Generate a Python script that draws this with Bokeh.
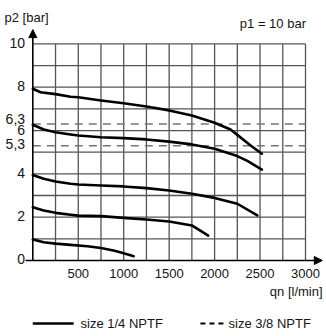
from bokeh.plotting import figure
from bokeh.models import Range1d, Arrow, NormalHead
from bokeh.core.properties import value
from bokeh.embed import file_html
from bokeh.resources import INLINE

# ---- data ----
q1 = [0, 85, 250, 415, 500, 750, 1000, 1250, 1500, 1750, 2000, 2175, 2250, 2400, 2520]
p1 = [7.93, 7.77, 7.68, 7.56, 7.54, 7.39, 7.26, 7.11, 6.93, 6.69, 6.36, 6.05, 5.8, 5.3, 4.93]
q2 = [0, 120, 250, 415, 500, 750, 1000, 1250, 1500, 1750, 2000, 2250, 2360, 2520]
p2 = [6.27, 6.05, 5.92, 5.82, 5.77, 5.69, 5.65, 5.59, 5.49, 5.36, 5.16, 4.82, 4.6, 4.2]
q3 = [0, 120, 250, 415, 500, 750, 1000, 1250, 1500, 1750, 2000, 2250, 2470]
p3 = [3.95, 3.77, 3.65, 3.54, 3.51, 3.46, 3.42, 3.34, 3.23, 3.08, 2.89, 2.62, 2.08]
q4 = [0, 120, 250, 415, 500, 750, 1000, 1250, 1500, 1750, 1930]
p4 = [2.46, 2.31, 2.2, 2.11, 2.07, 2.05, 1.97, 1.89, 1.8, 1.62, 1.15]
q5 = [0, 120, 250, 415, 600, 750, 900, 1000, 1110]
p5 = [0.97, 0.84, 0.78, 0.72, 0.66, 0.58, 0.45, 0.33, 0.2]
curves = [(q1, p1), (q2, p2), (q3, p3), (q4, p4), (q5, p5)]

ref_levels = [6.3, 5.3]
ref_labels = ["6,3", "5,3"]
x_ticks = [500, 1000, 1500, 2000, 2500, 3000]
x_tick_labels = ["500", "1000", "1500", "2000", "2500", "3000"]
y_ticks = [0, 2, 4, 6, 8, 10]
y_tick_labels = ["0", "2", "4", "6", "8", "10"]
x_grid = [250 * i for i in range(1, 13)]
y_grid = [i for i in range(1, 11)]
X_MAX, Y_MAX = 3000, 10

FONT = value("Liberation Sans")
TXT = "#151515"

p = figure(width=326, height=336,
           x_range=Range1d(-355.3, 3231), y_range=Range1d(-3.509, 12.004),
           output_backend="svg", toolbar_location=None,
           x_axis_location=None, y_axis_location=None,
           min_border=0, min_border_left=0, min_border_right=0,
           min_border_top=0, min_border_bottom=0)
p.grid.visible = False
p.outline_line_color = None
p.background_fill_color = "white"

# grid
p.segment(x0=x_grid, y0=0, x1=x_grid, y1=Y_MAX, line_color="#555555", line_width=1.3)
p.segment(x0=0, y0=y_grid, x1=X_MAX, y1=y_grid, line_color="#555555", line_width=1.3)

# reference dashed levels
p.segment(x0=0, y0=ref_levels, x1=X_MAX, y1=ref_levels, line_color="#777777",
          line_width=1.6, line_dash="8 6")

# axes with arrows
p.add_layout(Arrow(end=NormalHead(size=8, fill_color="black", line_color="black"),
                   x_start=0, y_start=0, x_end=0, y_end=10.66,
                   line_color="black", line_width=1.6))
p.add_layout(Arrow(end=NormalHead(size=8, fill_color="black", line_color="black"),
                   x_start=-80, y_start=0, x_end=3185, y_end=0,
                   line_color="black", line_width=1.6))

# curves
for q, pr in curves:
    p.line(q, pr, line_color="black", line_width=2.6, line_join="round", line_cap="round")

# tick labels
p.text(x=x_ticks, y=-0.6, text=x_tick_labels, text_align="center", text_baseline="middle",
       text_font=FONT, text_font_size="13px", text_color=TXT)
p.text(x=-85, y=y_ticks, text=y_tick_labels, text_align="right", text_baseline="middle",
       text_font=FONT, text_font_size="14px", text_color=TXT, y_offset=-1)
p.text(x=-85, y=ref_levels, text=ref_labels, text_align="right", text_baseline="middle",
       text_font=FONT, text_font_size="14px", text_color=TXT, y_offset=[-5, -2])

# titles
p.text(x=[-311], y=[11.22], text=["p2 [bar]"], text_align="left", text_baseline="middle",
       text_font=FONT, text_font_size="13px", text_color=TXT)
p.text(x=[3005], y=[10.96], text=["p1 = 10 bar"], text_align="right", text_baseline="middle",
       text_font=FONT, text_font_size="13px", text_color=TXT)
p.text(x=[3188], y=[-1.43], text=["qn [l/min]"], text_align="right", text_baseline="middle",
       text_font=FONT, text_font_size="13px", text_color=TXT)

# legend (drawn manually)
LY = -2.91
p.line([0, 450], [LY, LY], line_color="black", line_width=2.4)
p.text(x=[525], y=[LY], text=["size 1/4 NPTF"], text_align="left", text_baseline="middle",
       text_font=FONT, text_font_size="13px", text_color=TXT)
p.line([1844, 2098], [LY, LY], line_color="black", line_width=2, line_dash="5 4")
p.text(x=[2153], y=[LY], text=["size 3/8 NPTF"], text_align="left", text_baseline="middle",
       text_font=FONT, text_font_size="13px", text_color=TXT)

open("out.html", "w").write(file_html(p, INLINE))
